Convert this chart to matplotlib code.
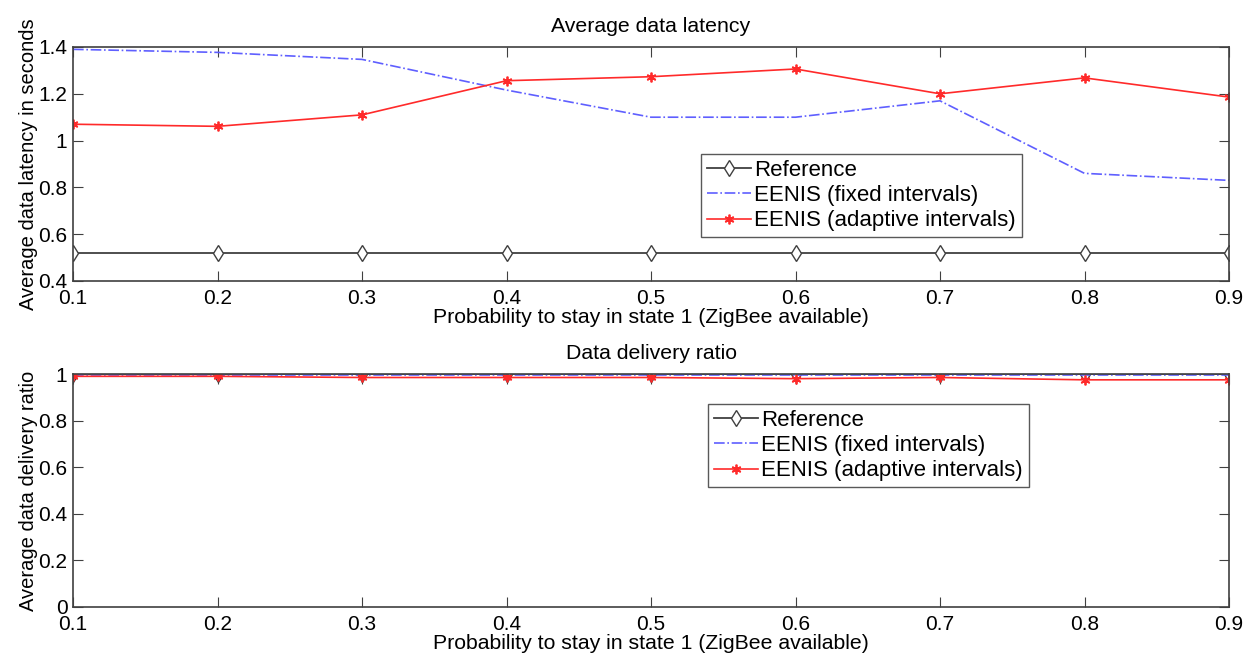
import matplotlib.pyplot as plt

plt.rcParams['font.family'] = ['Liberation Sans', 'DejaVu Sans']

# x values: probability to stay in state 1
prob = [0.1, 0.2, 0.3, 0.4, 0.5, 0.6, 0.7, 0.8, 0.9]

# average data latency (seconds)
lat_reference = [0.52, 0.52, 0.52, 0.52, 0.52, 0.52, 0.52, 0.52, 0.52]
lat_fixed = [1.39, 1.377, 1.347, 1.216, 1.10, 1.10, 1.17, 0.86, 0.83]
lat_adaptive = [1.07, 1.061, 1.11, 1.256, 1.273, 1.306, 1.20, 1.268, 1.186]

# average data delivery ratio
ddr_reference = [1.0, 1.0, 1.0, 1.0, 1.0, 1.0, 1.0, 1.0, 1.0]
ddr_fixed = [0.997, 0.997, 0.997, 0.997, 0.997, 0.997, 0.997, 0.997, 0.997]
ddr_adaptive = [0.99, 0.99, 0.985, 0.985, 0.985, 0.98, 0.985, 0.975, 0.975]

labels = ['Reference', 'EENIS (fixed intervals)', 'EENIS (adaptive intervals)']
xticks = [0.1, 0.2, 0.3, 0.4, 0.5, 0.6, 0.7, 0.8, 0.9]


def draw_panel(ax, ref, fixed, adaptive, title, ylabel, ylim, yticks, yticklabels, legend_pos):
    ax.plot(prob, ref, color='#404040', linewidth=1.3, marker='d', markersize=8,
            markerfacecolor='white', markeredgecolor='#404040', label=labels[0])
    ax.plot(prob, fixed, color='#5f5fff', linewidth=1.2, linestyle='-.', label=labels[1])
    ax.plot(prob, adaptive, color='#ff2a2a', linewidth=1.2, marker=(6, 2, 0), markersize=7,
            markeredgewidth=1.3, label=labels[2])
    ax.set_xlim(0.1, 0.9)
    ax.set_ylim(*ylim)
    ax.set_xticks(xticks)
    ax.set_xticklabels([str(t) for t in xticks])
    ax.set_yticks(yticks)
    ax.set_yticklabels(yticklabels)
    ax.tick_params(direction='in', length=7, top=True, right=True, labelsize=15,
                   color='#404040')
    ax.tick_params(axis='x', pad=6)
    ax.tick_params(axis='y', pad=4)
    for s in ax.spines.values():
        s.set_color('#404040')
        s.set_linewidth(1.2)
    ax.set_title(title, fontsize=15.3, pad=11)
    ax.set_xlabel('Probability to stay in state 1 (ZigBee available)', fontsize=15.3, labelpad=0)
    ax.set_ylabel(ylabel, fontsize=14.5, labelpad=0)
    leg = ax.legend(loc='upper left', bbox_to_anchor=legend_pos, fontsize=16,
                    frameon=True, fancybox=False, edgecolor='#303030',
                    handlelength=2.0, handletextpad=0.15, borderpad=0.25,
                    labelspacing=0.2, borderaxespad=0)
    leg.get_frame().set_linewidth(1.0)


fig = plt.figure(figsize=(12.59, 6.61), dpi=100)
ax1 = fig.add_axes([73 / 1259, 1 - 281 / 661, (1229 - 73) / 1259, (281 - 47) / 661])
ax2 = fig.add_axes([73 / 1259, 1 - 607 / 661, (1229 - 73) / 1259, (607 - 374) / 661])

draw_panel(ax1, lat_reference, lat_fixed, lat_adaptive, 'Average data latency',
           'Average data latency in seconds', (0.4, 1.4),
           [0.4, 0.6, 0.8, 1.0, 1.2, 1.4], ['0.4', '0.6', '0.8', '1', '1.2', '1.4'],
           ((701 - 73) / 1156, (281 - 154) / 234))
draw_panel(ax2, ddr_reference, ddr_fixed, ddr_adaptive, 'Data delivery ratio',
           'Average data delivery ratio', (0, 1),
           [0, 0.2, 0.4, 0.6, 0.8, 1.0], ['0', '0.2', '0.4', '0.6', '0.8', '1'],
           ((708 - 73) / 1156, (607 - 404) / 233))

fig.savefig('out.png', dpi=100)
